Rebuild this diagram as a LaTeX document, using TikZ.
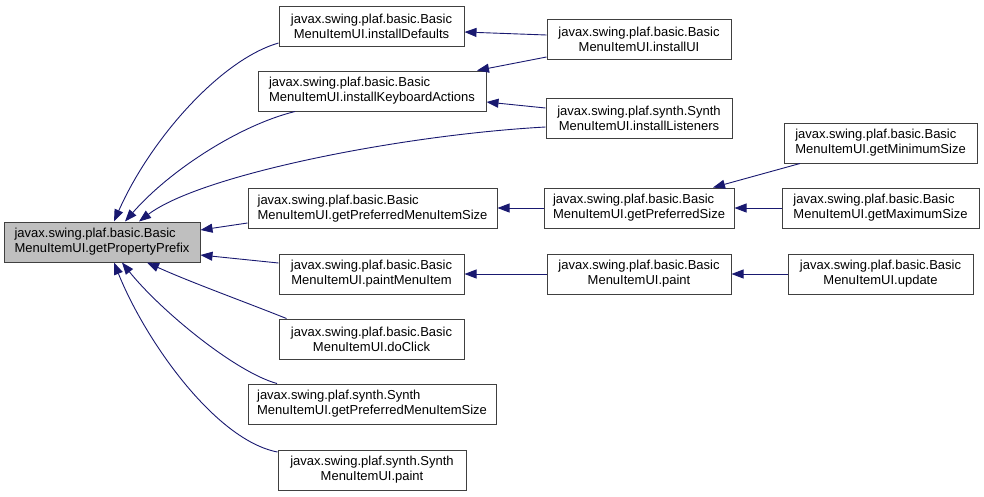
\documentclass[tikz,border=0pt]{standalone}
\usepackage{fontspec}
\setmainfont{Liberation Sans}
\usetikzlibrary{arrows.meta}
\definecolor{edgeblue}{HTML}{191970}
\definecolor{boxline}{HTML}{404040}
\definecolor{rootfill}{HTML}{BFBFBF}
\begin{document}
\begin{tikzpicture}[x=1pt,y=-1pt,
  box/.style={draw=boxline,line width=1pt,fill=white,rectangle,inner sep=0pt,minimum height=40pt,
    font=\fontsize{13}{15}\selectfont},
  boxc/.style={box,align=center},
  boxl/.style={box,align=left},
  rootbox/.style={boxl,fill=rootfill},
  edge/.style={draw=edgeblue,line width=0.9pt,-{Triangle[length=12pt,width=9pt,fill=edgeblue]}}]
\useasboundingbox (0,0) rectangle (984,496);
% nodes
\node[rootbox,minimum width=196pt] (root) at (102,242) {javax.swing.plaf.basic.Basic\\MenuItemUI.getPropertyPrefix};
\node[boxc,minimum width=185pt] (iDef) at (371.5,26) {javax.swing.plaf.basic.Basic\\MenuItemUI.installDefaults};
\node[boxl,minimum width=228pt] (iKey) at (372,91) {javax.swing.plaf.basic.Basic\\MenuItemUI.installKeyboardActions};
\node[boxc,minimum width=184pt] (iUI) at (639,39) {javax.swing.plaf.basic.Basic\\MenuItemUI.installUI};
\node[boxc,minimum width=186pt] (iLis) at (639,118) {javax.swing.plaf.synth.Synth\\MenuItemUI.installListeners};
\node[boxl,minimum width=193pt] (gMin) at (880.5,143) {javax.swing.plaf.basic.Basic\\MenuItemUI.getMinimumSize};
\node[boxl,minimum width=249pt] (gPMIS) at (372.5,208.5) {javax.swing.plaf.basic.Basic\\MenuItemUI.getPreferredMenuItemSize};
\node[boxl,minimum width=190pt] (gPS) at (639,208) {javax.swing.plaf.basic.Basic\\MenuItemUI.getPreferredSize};
\node[boxl,minimum width=197pt] (gMax) at (880.5,208) {javax.swing.plaf.basic.Basic\\MenuItemUI.getMaximumSize};
\node[boxc,minimum width=185pt] (pMI) at (371.5,274) {javax.swing.plaf.basic.Basic\\MenuItemUI.paintMenuItem};
\node[boxc,minimum width=184pt] (paint) at (639,274) {javax.swing.plaf.basic.Basic\\MenuItemUI.paint};
\node[boxc,minimum width=185pt] (update) at (880.5,274) {javax.swing.plaf.basic.Basic\\MenuItemUI.update};
\node[boxc,minimum width=185pt] (doClick) at (371.5,339) {javax.swing.plaf.basic.Basic\\MenuItemUI.doClick};
\node[boxl,minimum width=248pt] (sPMIS) at (372,404) {javax.swing.plaf.synth.Synth\\MenuItemUI.getPreferredMenuItemSize};
\node[boxc,minimum width=188pt] (sPaint) at (372,470) {javax.swing.plaf.synth.Synth\\MenuItemUI.paint};
% edges into root
\draw[edge] ([yshift=-17pt]iDef.west) .. controls (220,60) and (150,140) .. ([xshift=12pt]root.north);
\draw[edge] ([xshift=-77pt]iKey.south) .. controls (240,125) and (170,170) .. ([xshift=23pt]root.north);
\draw[edge] ([yshift=-9pt]iLis.west) .. controls (400,135) and (200,175) .. ([xshift=37pt]root.north);
\draw[edge] ([yshift=-14.5pt]gPMIS.west) -- ([yshift=12pt]root.east);
\draw[edge] ([yshift=11pt]pMI.west) -- ([yshift=-13pt]root.east);
\draw[edge] ([xshift=-85pt]doClick.north) .. controls (240,300) and (190,282) .. ([xshift=45pt]root.south);
\draw[edge] ([xshift=-95pt]sPMIS.north) .. controls (235,372) and (160,310) .. ([xshift=20pt]root.south);
\draw[edge] ([yshift=18pt]sPaint.west) .. controls (215,440) and (145,340) .. ([xshift=12pt]root.south);
% other edges
\draw[edge] ([yshift=4pt]iUI.west) -- ([yshift=-6pt]iDef.east);
\draw[edge] ([yshift=-18pt]iUI.west) -- ([xshift=105pt]iKey.north);
\draw[edge] ([yshift=10pt]iLis.west) -- ([yshift=-11pt]iKey.east);
\draw[edge] ([xshift=-80.5pt]gMin.south) -- ([xshift=74pt]gPS.north);
\draw[edge] (gMax.west) -- (gPS.east);
\draw[edge] (gPS.west) -- (gPS.west -| gPMIS.east);
\draw[edge] (paint.west) -- (pMI.east);
\draw[edge] (update.west) -- (paint.east);
\end{tikzpicture}
\end{document}
